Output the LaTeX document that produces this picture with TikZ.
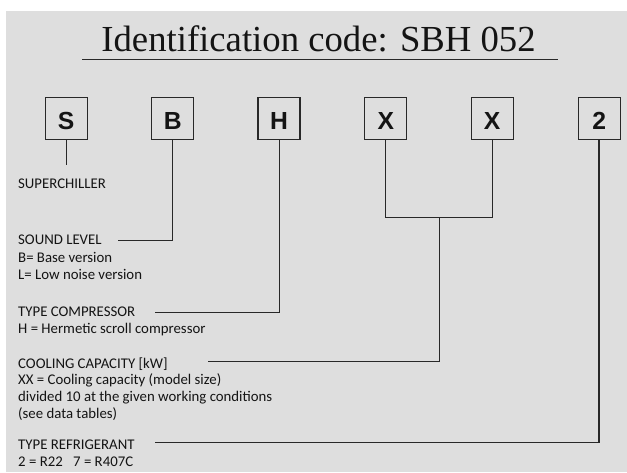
\documentclass[tikz,border=0pt]{standalone}
\usepackage{fontspec}
\setmainfont{Carlito}
\newfontfamily\titlefont{Liberation Serif}
\newfontfamily\boxfont{Liberation Sans}
\definecolor{bg}{RGB}{222,222,222}
\definecolor{ln}{RGB}{40,40,40}
\definecolor{tx}{RGB}{20,20,20}
\begin{document}
\begin{tikzpicture}[x=1pt,y=-1pt,
  codebox/.style={draw=ln, line width=1.1pt, minimum width=42pt, minimum height=42pt,
    inner sep=0pt, text height=22pt, text depth=0pt,
    font=\boxfont\bfseries\fontsize{24.7}{26}\selectfont, text=tx},
  lbl/.style={anchor=base west, inner sep=0pt, font=\fontsize{14.8}{16.7}\selectfont, text=tx},
  conn/.style={draw=ln, line width=1pt},
  thickconn/.style={draw=ln, line width=1.5pt}]
\useasboundingbox (0,0) rectangle (627,472);
\fill[white] (0,0) rectangle (627,472);
\fill[bg] (6,11) rectangle (627,472);

% title
\node[anchor=base, inner sep=0pt, font=\titlefont\fontsize{36.7}{40}\selectfont, text=tx]
  (title) at (318.5,51) {Identification code: SBH 052};
\coordinate (ulA) at (82,59);
\coordinate (ulB) at (558,59);
\draw[conn] (ulA) -- (ulB);

% code boxes
\node[codebox] (S)  at (66.2,118.3)  {S};
\node[codebox] (B)  at (172.8,118.3) {B};
\node[codebox] (H)  at (279,118.3)   {H};
\node[codebox] (X1) at (385.8,118.3) {X};
\node[codebox] (X2) at (492.2,118.3) {X};
\node[codebox] (R)  at (599.2,118.3) {2};

% labels
\node[lbl] (sc)  at (18,188.3) {SUPERCHILLER};
\node[lbl] (sl)  at (18,244.5) {SOUND LEVEL};
\node[lbl] (sl1) at (18,262.5) {B= Base version};
\node[lbl] (sl2) at (18,279.5) {L= Low noise version};
\node[lbl] (tc)  at (18,316)   {TYPE COMPRESSOR};
\node[lbl] (tc1) at (18,333.3) {H = Hermetic scroll compressor};
\node[lbl] (cc)  at (18,368.3) {COOLING CAPACITY [kW]};
\node[lbl] (cc1) at (18,384.8) {XX = Cooling capacity (model size)};
\node[lbl] (cc2) at (18,401.4) {divided 10 at the given working conditions};
\node[lbl] (cc3) at (18,418)   {(see data tables)};
\node[lbl] (tr)  at (18,449.3) {TYPE REFRIGERANT};
\node[lbl] (tr1) at (18,466)   {2 = R22\hspace{7pt} 7 = R407C};

% connector end points
\coordinate (sEnd) at (66.2,165);
\coordinate (slL) at (118,240);
\coordinate (tcL) at (155,312);
\coordinate (xm)  at (439,217.7);
\coordinate (ccL) at (208,361.5);
\coordinate (trL) at (155,442.5);

% connectors
\draw[conn] (S.south) -- (sEnd);
\draw[conn] (slL) -| (B.south);
\draw[conn] (tcL) -| (H.south);
\draw[conn] (X1.south) |- (xm) -| (X2.south);
\draw[conn] (ccL) -| (xm);
\draw[thickconn] (trL) -| (R.south);
\end{tikzpicture}
\end{document}
